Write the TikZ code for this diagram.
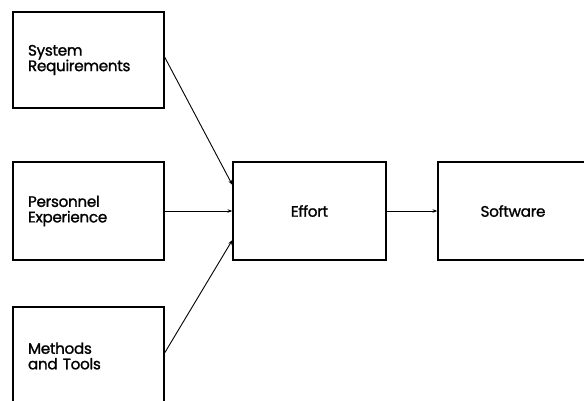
\documentclass[tikz,border=0pt]{standalone}
\usepackage{fontspec}
\setmainfont{Poppins}[FakeBold=1.2]
\usetikzlibrary{arrows.meta}
\begin{document}
\begin{tikzpicture}[x=1pt,y=1pt,
  box/.style={draw=black,line width=1.2pt,minimum height=98pt,inner sep=0pt},
  lbox/.style={box,text width=121pt,align=left,inner xsep=15pt,minimum width=151pt},
  cbox/.style={box,align=center},
  conn/.style={draw=black,line width=0.9pt,-{Stealth[length=5pt,width=3.5pt]}},
  font=\fontsize{15.2}{15.5}\selectfont\addfontfeatures{LetterSpace=-2}]
\useasboundingbox[fill=white] (0,0) rectangle (584,400);
\node[lbox,minimum height=96pt] (sys) at (88.5,340) {System\\Requirements};
\node[lbox] (per) at (88.5,189) {Personnel\\Experience};
\node[lbox] (met) at (88.5,44) {Methods\\and Tools};
\node[cbox,minimum width=153pt] (eff) at (309.5,189) {Effort};
\node[cbox,minimum width=150pt] (sw) at (513,189) {Software};
\draw[conn] ([yshift=3pt]sys.east) -- ([yshift=26pt]eff.west);
\draw[conn] (per.east) -- (eff.west);
\draw[conn] ([yshift=3pt]met.east) -- ([yshift=-29pt]eff.west);
\draw[conn] (eff.east) -- (sw.west);
\end{tikzpicture}
\end{document}
